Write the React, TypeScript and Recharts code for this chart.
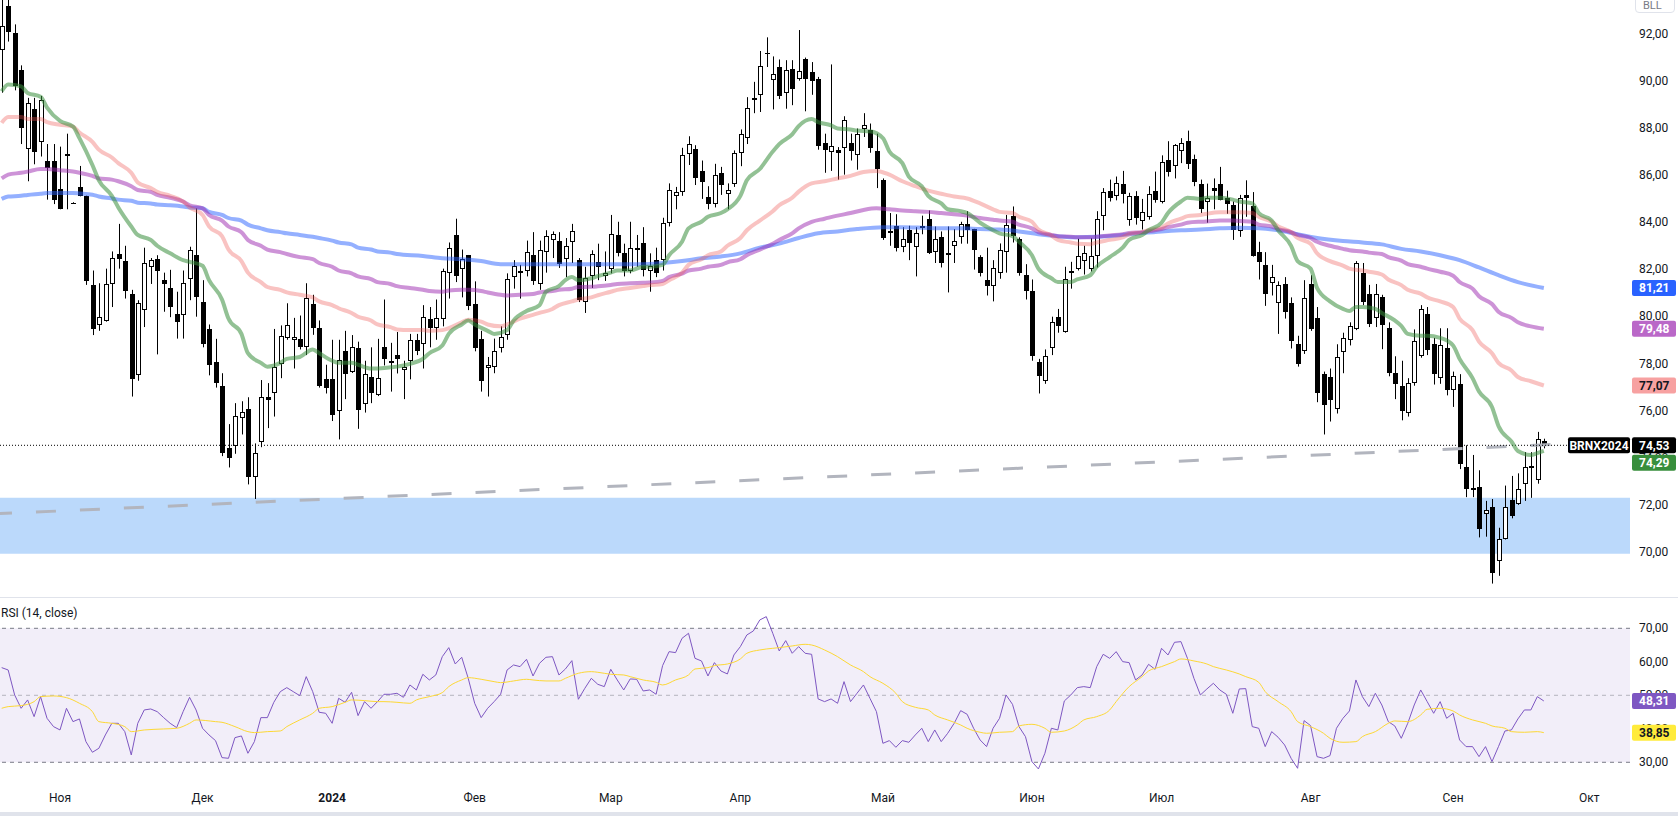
import React from 'react';
import { ComposedChart, Bar, Line, XAxis, YAxis, ReferenceLine, ReferenceArea } from 'recharts';

const FONT = "Roboto, 'Noto Sans', Arial, sans-serif";
const TEXT = '#131722';
const SYMBOL = 'BRNX2024';

// candles: [open, high, low, close], trading days from 19 Oct 2023 to 20 Sep 2024
const ohlc: number[][] = [
[91.30,93.6,89.5,92.34],[93.19,93.6,91.67,92.08],[92.05,92.4,89.6,89.77],[90.45,90.66,87.32,87.99],[87.11,89.28,85.74,89.07],
[88.79,89.28,86.46,86.98],[87.41,89.36,86.79,89.17],[86.62,87.32,84.96,86.30],[86.62,87.32,84.77,84.93],[85.43,87.21,84.55,84.55],
[86.90,87.76,84.55,86.85],[84.83,84.85,84.81,84.83],[85.50,86.39,85.10,85.12],[85.12,85.13,81.34,81.50],[81.34,81.95,79.21,79.47],
[79.62,81.41,79.39,79.96],[79.79,82.03,79.78,81.38],[81.38,82.76,80.40,82.47],[82.66,83.93,82.03,82.42],[82.35,83.00,80.76,81.10],
[80.94,81.13,76.60,77.35],[77.50,80.69,77.27,80.56],[80.27,82.92,79.55,82.26],[82.08,82.48,81.38,82.39],[82.43,82.60,78.39,81.91],
[81.54,81.86,80.20,81.36],[81.21,81.98,79.97,80.40],[80.10,81.05,79.06,79.78],[80.07,81.95,79.06,81.41],[81.57,82.96,80.69,82.81],
[82.60,84.59,79.99,80.81],[80.61,81.54,78.69,78.82],[79.47,79.66,77.50,77.95],[78.07,79.05,76.98,77.17],[77.06,77.59,74.07,74.20],
[74.42,75.43,73.59,74.01],[74.50,76.32,74.17,75.79],[75.67,76.40,74.99,75.96],[76.08,76.57,72.87,73.19],[73.19,74.61,72.25,74.20],
[74.69,77.30,74.45,76.57],[76.60,77.17,75.26,76.45],[76.73,79.47,75.75,77.87],[78.00,79.62,77.38,79.16],[79.09,80.56,79.01,79.62],
[78.98,79.94,77.79,79.11],[79.06,80.04,78.60,78.72],[78.69,81.41,78.36,80.77],[80.51,80.92,79.22,79.50],[79.50,79.83,76.98,77.06],
[77.33,77.95,76.73,76.98],[77.33,79.01,75.56,75.83],[76.00,79.01,74.78,78.16],[78.52,79.39,76.49,77.55],[77.63,79.21,77.60,78.69],
[78.65,78.93,75.23,76.03],[76.27,78.12,75.92,77.55],[77.42,78.69,76.32,76.73],[76.65,79.05,76.62,77.38],[78.69,80.72,77.92,78.20],
[78.10,78.88,76.81,78.06],[78.36,79.34,77.58,78.20],[77.71,78.12,76.49,77.87],[78.12,79.26,77.33,79.01],[79.01,79.26,78.36,78.52],
[78.82,80.48,77.79,79.99],[79.88,80.40,78.69,79.50],[79.50,80.72,79.01,79.94],[79.88,82.03,79.58,81.91],[81.83,83.14,80.76,82.89],
[83.46,84.15,81.46,81.73],[82.03,82.84,80.81,82.43],[82.60,82.61,80.27,80.45],[80.51,81.49,78.52,78.64],[79.06,79.39,76.81,77.27],
[77.82,78.28,76.60,77.92],[77.87,79.06,77.59,78.52],[78.64,79.58,78.47,79.14],[79.22,81.83,79.01,81.57],[81.67,82.39,81.18,82.14],
[81.93,82.19,80.76,81.89],[81.91,83.22,81.70,82.73],[82.60,83.58,81.34,81.51],[81.38,83.22,81.13,82.81],[82.73,83.66,81.86,83.41],
[83.25,83.61,82.48,83.49],[83.20,83.58,82.06,82.24],[82.42,83.33,81.67,83.00],[83.17,83.93,82.27,83.62],[82.40,82.48,80.61,80.72],
[80.61,82.11,80.15,81.62],[81.70,82.81,81.21,82.65],[82.30,83.09,81.54,82.08],[81.73,82.76,81.51,81.86],[82.03,84.31,81.83,83.49],
[83.44,84.02,82.55,82.71],[82.68,83.09,81.70,81.95],[81.95,84.02,81.83,82.89],[82.90,83.46,82.11,82.88],[83.12,83.79,81.70,81.99],
[81.91,82.68,81.05,82.14],[82.39,82.92,81.67,81.86],[82.39,84.19,81.95,83.95],[83.95,85.65,83.82,85.37],[85.12,85.50,84.55,85.29],
[85.29,87.16,85.12,86.84],[86.88,87.65,86.43,87.32],[87.13,87.27,85.58,85.86],[86.18,86.62,84.99,85.69],[85.09,85.53,84.55,84.77],
[84.77,86.48,84.63,86.02],[86.10,86.35,85.16,85.58],[85.21,85.65,84.55,85.37],[85.61,87.05,85.50,86.95],[86.95,87.94,86.38,87.76],
[87.57,89.31,87.32,88.87],[89.17,89.96,88.63,89.28],[89.41,91.27,88.68,90.62],[91.20,91.85,90.59,91.18],[90.05,91.04,88.79,90.31],
[90.57,90.91,89.23,89.36],[89.49,90.88,88.82,90.45],[90.50,90.88,88.97,89.65],[90.10,92.16,90.01,90.42],[90.91,90.99,88.71,90.06],
[90.39,90.80,89.41,89.98],[90.06,90.17,87.08,87.24],[87.37,87.76,86.10,87.08],[87.00,90.70,86.18,87.24],[87.05,87.19,85.81,86.95],
[87.16,88.50,86.02,88.33],[87.37,87.76,86.62,87.03],[86.84,87.98,86.23,87.73],[87.94,88.63,87.62,88.14],[87.93,88.19,86.95,87.16],
[87.03,87.76,85.45,86.26],[85.78,85.86,83.25,83.33],[83.54,84.39,83.00,83.62],[83.82,84.34,82.76,82.89],[82.96,83.79,82.73,83.28],
[83.69,83.85,82.39,83.12],[82.96,83.79,81.70,83.54],[83.74,84.28,83.49,83.82],[84.15,84.50,82.65,82.71],[82.73,83.82,82.27,83.28],
[83.38,83.61,82.08,82.27],[82.70,83.82,81.02,82.66],[83.00,83.71,82.27,83.22],[83.38,84.02,83.09,83.93],[83.93,84.47,83.09,83.66],
[83.71,83.72,81.99,82.81],[82.52,82.60,81.70,81.83],[81.54,82.92,80.89,81.29],[81.29,82.39,80.64,82.06],[81.86,83.10,81.60,82.81],
[82.73,84.31,81.86,83.90],[84.26,84.67,83.14,83.41],[83.30,83.36,81.73,81.83],[81.75,82.22,80.72,81.10],[81.10,81.57,78.12,78.31],
[78.08,78.20,76.73,77.46],[77.25,78.60,77.14,78.33],[78.65,79.99,78.36,79.78],[79.99,80.32,79.31,79.58],[79.34,82.11,79.31,81.57],
[81.93,82.32,81.18,81.89],[82.03,83.30,81.95,82.55],[82.35,83.00,81.78,82.68],[82.03,83.33,81.91,82.57],[82.57,84.47,82.08,84.15],
[84.28,85.45,83.66,85.29],[85.32,85.81,84.88,85.04],[85.12,85.94,84.93,85.66],[85.61,86.18,84.80,85.21],[84.10,85.25,83.85,85.12],
[85.12,85.32,83.90,84.18],[84.06,84.99,83.69,84.44],[84.23,85.53,84.11,85.21],[85.34,86.15,84.83,84.96],[84.85,86.84,84.80,86.56],
[86.64,87.44,85.94,86.15],[86.40,87.32,85.86,87.29],[87.03,87.57,86.51,87.37],[87.44,87.89,86.26,86.46],[86.70,86.87,85.53,85.69],
[85.64,85.81,84.39,84.55],[84.85,85.64,83.98,85.04],[85.45,85.86,84.55,85.34],[85.64,86.35,84.93,84.96],[85.04,85.34,84.36,84.77],
[84.75,84.88,83.25,83.66],[83.61,85.16,83.38,85.04],[85.17,85.78,84.23,85.04],[84.67,85.28,82.54,82.55],[82.73,83.17,81.57,82.32],
[82.19,82.73,80.45,80.94],[81.41,82.19,80.89,81.67],[80.59,81.49,79.26,81.33],[81.38,81.67,79.91,80.20],[80.56,80.81,78.64,78.96],
[78.82,79.18,77.87,77.99],[78.52,81.54,78.41,80.77],[81.38,81.75,79.39,79.45],[79.94,80.40,76.36,76.73],[77.55,77.66,74.99,76.24],
[77.42,77.79,75.54,76.44],[76.08,78.82,75.88,78.28],[78.47,79.31,77.59,79.09],[78.98,79.75,78.77,79.58],[79.47,82.35,79.42,82.27],
[81.83,82.27,80.48,80.61],[80.94,81.34,79.55,79.70],[79.94,81.38,79.55,80.97],[80.81,80.92,78.61,79.62],[79.53,79.75,77.46,77.58],
[77.59,78.31,76.49,77.14],[77.06,78.12,75.59,76.00],[75.92,77.38,75.75,77.17],[77.19,79.45,77.06,78.96],[78.31,80.48,78.25,80.32],
[80.10,80.40,78.36,78.57],[78.85,79.09,77.11,77.55],[77.38,79.50,77.14,78.80],[78.64,79.50,76.65,76.89],[76.89,77.66,76.16,77.46],
[77.14,77.55,73.52,73.72],[73.63,74.53,72.33,72.66],[72.71,74.12,72.33,72.67],[72.74,73.47,70.62,70.98],[71.60,72.17,70.65,71.79],
[71.89,72.25,68.66,69.10],[69.61,71.03,68.99,70.54],[70.54,72.82,70.53,71.92],[72.20,73.23,71.43,71.52],[72.04,73.34,72.00,72.69],
[72.87,74.24,72.17,73.63],[73.64,74.24,72.30,73.62],[73.06,75.10,72.90,74.81],[74.73,74.81,74.40,74.53],
];

// moving averages: [bar index, value]
const maGreen: number[][] = [
[1,89.56],[2,89.85],[4,89.77],[5,89.49],[7,89.33],[8,88.87],[10,88.30],[12,88.06],[13,87.57],[15,86.43],[16,85.78],[18,85.12],[19,84.63],[21,83.82],[22,83.46],[24,83.25],[25,83.0],[27,82.68],[29,82.39],[30,82.32],
[32,82.15],[33,81.54],[35,80.72],[36,79.91],[38,79.26],[39,78.44],[41,78.03],[42,77.87],[44,78.03],[45,78.2],[47,78.28],[49,78.6],[50,78.44],[52,78.12],[53,78.03],[55,78.03],[56,77.95],[58,77.79],[59,77.79],[61,77.84],
[62,77.87],[64,77.99],[66,78.2],[67,78.44],[69,78.77],[70,79.26],[72,79.66],[73,79.83],[74,79.66],[76,79.39],[77,79.26],[79,79.42],[80,79.83],[82,80.23],[84,80.48],[85,81.05],[87,81.29],[88,81.54],[89,81.67],[90,81.54],[92,81.62],
[93,81.71],[95,81.86],[96,81.95],[98,81.95],[100,82.11],[101,82.11],[103,82.19],[104,82.6],[106,83.17],[107,83.74],[109,84.02],[110,84.23],[112,84.39],[113,84.55],[115,85.12],[116,85.78],[118,86.26],[120,87.0],[121,87.32],[123,87.73],
[124,88.08],[126,88.38],[127,88.25],[129,88.11],[130,87.98],[132,87.94],[133,87.89],[135,87.86],[137,87.57],[138,87.0],[140,86.51],[141,85.94],[143,85.53],[144,85.12],[146,84.8],[147,84.55],[149,84.47],[150,84.39],[152,83.98],[154,83.66],
[155,83.53],[157,83.41],[158,83.17],[160,82.6],[161,82.03],[163,81.62],[164,81.46],[166,81.46],[167,81.57],[169,81.75],[170,82.11],[172,82.52],[174,82.92],[175,83.25],[177,83.46],[178,83.66],[180,83.98],[181,84.39],[183,84.88],[184,85.04],
[186,84.99],[187,85.04],[189,85.04],[191,84.96],[192,84.88],[194,84.8],[195,84.39],[197,84.07],[198,83.66],[200,83.0],[201,82.35],[203,82.03],[204,81.21],[206,80.64],[208,80.32],[209,80.23],[210,80.4],[211,80.4],[213,80.32],[214,80.15],[216,79.83],
[217,79.6],[218,79.26],[220,79.18],[221,79.18],[223,79.09],[225,78.77],[226,78.2],[228,77.38],[229,76.81],[231,76.16],[232,75.35],[234,74.69],[235,74.29],[237,74.12],[238,74.2],[239,74.29],
];
const maPink: number[][] = [
[1,88.22],[2,88.47],[4,88.47],[5,88.38],[7,88.38],[8,88.25],[10,88.14],[12,88.06],[13,87.81],[15,87.41],[16,87.08],[18,86.75],[19,86.51],[21,86.1],[22,85.69],[24,85.45],[25,85.29],[27,85.12],[29,84.88],[30,84.63],
[32,84.31],[33,83.82],[35,83.41],[36,82.84],[38,82.35],[39,81.86],[41,81.46],[42,81.25],[44,81.13],[45,81.02],[47,80.92],[49,80.81],[50,80.64],[52,80.48],[53,80.35],[55,80.15],[56,79.99],[58,79.83],[59,79.66],[61,79.55],
[62,79.45],[64,79.42],[66,79.42],[67,79.39],[69,79.42],[70,79.5],[72,79.75],[73,79.86],[75,79.78],[76,79.66],[78,79.58],[79,79.66],[81,79.91],[83,80.07],[84,80.15],[86,80.32],[87,80.48],[89,80.64],[90,80.72],[92,80.81],
[93,80.9],[95,81.05],[96,81.13],[98,81.21],[100,81.29],[101,81.33],[103,81.38],[104,81.54],[106,81.86],[107,82.19],[109,82.43],[110,82.6],[112,82.76],[113,83.0],[115,83.33],[116,83.66],[118,84.07],[120,84.47],[121,84.72],[123,85.04],
[124,85.3],[126,85.65],[128,85.74],[130,85.86],[132,85.97],[134,86.13],[136,86.18],[138,86.02],[140,85.74],[142,85.53],[144,85.34],[146,85.21],[148,85.09],[150,85.01],[152,84.8],[154,84.55],
[155,84.44],[157,84.39],[158,84.23],[160,84.02],[161,83.69],[163,83.44],[164,83.25],[166,83.14],[167,83.09],[169,83.07],[170,83.14],[172,83.25],[174,83.36],[175,83.49],[177,83.58],[178,83.66],[180,83.77],[181,83.95],[183,84.15],[184,84.26],
[186,84.31],[187,84.36],[189,84.42],[191,84.42],[192,84.42],[194,84.39],[195,84.23],[197,84.02],[198,83.82],[200,83.58],[201,83.33],[203,83.09],[204,82.68],[206,82.35],[208,82.16],[209,82.03],[211,81.95],[212,81.9],[214,81.78],[215,81.57],
[217,81.33],[218,81.13],[220,80.97],[221,80.81],[223,80.64],[225,80.4],[226,79.91],[228,79.42],[229,78.93],[231,78.44],[232,78.03],[234,77.71],[235,77.43],[237,77.25],[239,77.07],
];
const maPurple: number[][] = [
[1,85.86],[2,86.02],[4,86.1],[5,86.15],[7,86.26],[8,86.26],[10,86.21],[12,86.15],[13,86.1],[15,85.97],[16,85.86],[18,85.81],[19,85.74],[21,85.53],[22,85.37],[24,85.29],[25,85.16],[27,85.04],[29,84.88],[30,84.72],
[32,84.59],[33,84.31],[35,84.07],[36,83.82],[38,83.58],[39,83.25],[41,83.0],[42,82.84],[44,82.73],[45,82.65],[47,82.52],[49,82.43],[50,82.27],[52,82.11],[53,81.95],[55,81.83],[56,81.7],[58,81.59],[59,81.46],[61,81.38],
[62,81.29],[64,81.21],[66,81.13],[67,81.08],[69,81.05],[70,81.1],[72,81.13],[73,81.13],[75,81.08],[76,81.02],[78,80.92],[79,80.89],[81,80.92],[83,80.95],[84,81.02],[86,81.08],[87,81.13],[89,81.18],[90,81.25],[92,81.26],
[93,81.28],[95,81.34],[96,81.38],[98,81.41],[100,81.43],[101,81.44],[103,81.51],[104,81.67],[106,81.82],[107,81.95],[109,82.03],[110,82.11],[112,82.19],[113,82.3],[115,82.43],[116,82.6],[118,82.84],[120,83.09],[121,83.25],[123,83.53],
[124,83.74],[126,84.02],[128,84.15],[130,84.28],[132,84.39],[134,84.52],[136,84.59],[138,84.55],[140,84.5],[142,84.47],[144,84.44],[146,84.39],[148,84.34],[150,84.28],[152,84.18],[154,84.11],
[155,84.07],[157,84.02],[158,83.9],[160,83.74],[161,83.58],[163,83.46],[164,83.41],[166,83.38],[167,83.36],[169,83.36],[170,83.38],[172,83.44],[174,83.49],[175,83.54],[177,83.58],[178,83.62],[180,83.71],[181,83.79],[183,83.9],[184,83.98],
[186,84.02],[187,84.03],[189,84.07],[191,84.07],[192,84.05],[194,84.02],[195,83.9],[197,83.82],[198,83.71],[200,83.58],[201,83.46],[203,83.33],[204,83.17],[206,83.0],[208,82.87],[209,82.81],[211,82.76],[212,82.71],[214,82.65],[215,82.52],
[217,82.37],[218,82.22],[220,82.11],[221,82.03],[223,81.9],[225,81.73],[226,81.46],[228,81.18],[229,80.86],[231,80.53],[232,80.2],[234,79.94],[235,79.75],[237,79.58],[239,79.48],
];
const maBlue: number[][] = [
[1,84.99],[2,85.09],[4,85.12],[5,85.16],[7,85.21],[8,85.24],[10,85.24],[12,85.24],[13,85.22],[15,85.17],[16,85.09],[18,85.01],[19,84.96],[21,84.91],[22,84.83],[24,84.8],[25,84.75],[27,84.72],[29,84.67],[30,84.63],
[32,84.59],[33,84.44],[35,84.31],[36,84.18],[38,84.07],[39,83.9],[41,83.74],[42,83.66],[44,83.58],[45,83.53],[47,83.46],[49,83.38],[50,83.33],[52,83.22],[53,83.14],[55,83.06],[56,82.92],[58,82.84],[59,82.76],[61,82.71],
[62,82.65],[66,82.57],[69,82.47],[72,82.43],[75,82.35],[78,82.22],[81,82.22],[84,82.22],[87,82.22],[90,82.22],
[93,82.22],[96,82.22],[100,82.22],[103,82.27],[106,82.35],[109,82.47],[112,82.55],[115,82.68],[118,82.92],[121,83.09],
[124,83.33],[127,83.53],[130,83.61],[133,83.71],[137,83.79],[140,83.79],[143,83.77],[146,83.74],[149,83.74],[152,83.71],
[155,83.69],[158,83.61],[161,83.49],[164,83.41],[167,83.36],[170,83.38],[174,83.46],[177,83.54],[180,83.61],[183,83.66],
[186,83.69],[189,83.74],[192,83.77],[195,83.74],[198,83.66],[201,83.49],[204,83.33],[208,83.2],[211,83.14],[214,83.06],
[217,82.87],[220,82.76],[223,82.6],[226,82.39],[229,82.08],[232,81.75],[235,81.46],[239,81.21],
];

// RSI(14) per bar
const rsiValues: number[] = [
58.26,57.56,50.10,46.12,48.61,43.63,49.60,43.13,40.65,39.65,46.12,42.14,42.94,36.17,32.99,34.18,38.16,41.64,41.64,39.15,
32.19,41.64,45.62,45.92,45.12,43.33,41.64,40.35,45.12,49.40,45.62,40.15,38.16,36.47,31.39,31.19,37.36,37.86,32.69,36.17,
43.33,43.33,47.91,51.09,52.29,51.09,49.90,55.57,51.09,44.93,44.63,41.64,49.10,47.91,50.90,43.93,48.11,46.12,48.11,50.30,
50.30,50.60,49.40,53.08,51.59,56.27,54.58,56.07,61.54,64.23,59.35,61.34,55.07,47.61,43.33,46.12,48.11,50.30,57.56,59.05,
58.56,60.75,55.77,59.55,61.34,61.54,56.07,57.86,60.35,48.81,52.09,55.07,53.28,52.59,57.76,54.58,51.59,54.88,54.78,51.29,
51.59,50.30,58.86,63.03,62.74,67.01,68.51,61.04,60.25,55.77,59.75,57.26,56.37,62.04,64.53,68.01,69.20,72.49,73.48,68.51,
63.23,66.32,62.54,64.53,62.54,62.24,48.91,48.11,48.91,47.61,54.08,48.11,50.60,53.08,49.10,45.12,35.67,36.47,34.48,36.47,
35.97,38.16,40.15,36.17,39.65,36.17,38.66,41.64,45.42,44.33,40.15,36.67,34.68,40.15,43.13,50.10,47.31,40.65,37.66,30.20,
28.01,32.69,40.15,39.65,48.31,50.10,52.29,52.59,52.29,58.56,62.24,61.04,63.03,60.05,59.75,54.58,56.07,59.25,57.76,64.03,
62.04,65.82,66.02,61.04,55.07,50.10,51.89,53.58,51.59,50.30,44.63,51.89,51.99,40.65,40.15,34.68,39.15,37.46,35.17,31.19,
28.21,42.44,40.95,31.69,31.19,31.99,40.15,43.13,45.32,54.58,49.60,46.62,50.60,47.11,42.14,40.85,37.16,41.64,47.11,51.59,
48.11,44.63,48.11,43.13,44.63,36.67,34.68,34.68,31.69,34.68,30.20,34.68,39.35,39.65,42.94,45.62,45.62,49.60,48.31,
];

// RSI-based MA: [bar index, value]
const rsiMa: number[][] = [
[1,46.12],[2,46.62],[4,46.92],[6,48.11],[7,49.6],[9,49.8],[11,49.3],[13,47.61],[15,45.12],[16,42.14],[18,41.64],[20,40.65],[21,39.15],[23,39.65],[26,39.95],[28,40.15],[30,41.64],[31,42.64],[34,42.14],[35,41.94],
[37,40.65],[39,39.15],[40,38.86],[42,39.15],[44,39.35],[45,40.65],[47,42.64],[49,44.63],[50,46.12],[52,46.62],[54,47.91],[55,48.61],[57,48.41],[59,48.11],[60,48.11],[62,47.91],[64,47.61],[65,48.61],[67,49.6],[69,50.8],
[70,52.59],[72,54.58],[73,55.27],[75,54.78],[77,54.08],[78,53.78],[80,54.28],[82,54.78],[83,54.58],[85,54.28],[87,54.28],[88,55.07],[90,56.57],[92,57.06],[93,56.87],[95,56.27],[97,56.07],[98,55.57],[100,54.58],[102,53.88],
[103,53.08],[105,54.58],[107,56.07],[108,57.86],[110,58.26],[111,58.86],[113,59.35],[115,60.85],[116,62.54],[118,63.53],[120,64.03],[121,64.23],[123,64.73],[125,65.22],[126,65.02],[128,63.53],[130,61.54],
[132,59.05],[134,57.06],[135,55.57],[137,53.58],[139,50.6],[140,48.11],[142,46.42],[144,45.62],[145,44.13],[147,42.64],[149,41.14],[150,40.15],[152,38.96],[153,38.66],[155,38.96],[157,39.15],[158,40.85],[160,41.34],
[162,40.15],[163,38.96],[165,39.35],[167,41.14],[168,42.64],[170,43.63],[172,45.62],[173,48.11],[175,52.59],[177,55.57],[178,57.26],[180,58.56],[182,60.05],[183,60.85],[185,60.25],[187,59.35],[188,58.56],[190,57.56],
[192,56.37],[193,55.57],[195,53.88],[196,51.09],[198,48.11],[200,45.12],[201,42.14],[203,40.65],[205,38.66],[206,37.16],[208,35.97],[210,36.17],[211,37.66],[213,39.15],[215,41.64],[216,42.34],[218,42.14],[220,44.13],
[221,45.82],[223,46.12],[225,45.32],[226,44.13],[228,42.64],[230,41.64],[231,40.85],[233,40.15],[234,39.15],[236,38.96],[238,39.15],[239,38.85],
];

const monthTicks = [10, 32, 52, 74, 95, 115, 137, 160, 180, 203, 225, 246];
const monthLabels = ['Ноя', 'Дек', '2024', 'Фев', 'Мар', 'Апр', 'Май', 'Июн', 'Июл', 'Авг', 'Сен', 'Окт'];
const priceTicks = [70, 72, 74, 76, 78, 80, 82, 84, 86, 88, 90, 92];
const rsiTicks = [30, 40, 50, 60, 70];
const supportZone = { low: 69.93, high: 72.3 };
const trendLine = [{ x: 0.74, y: 71.63 }, { x: 252.3, y: 74.71 }];

const X_DOMAIN: [number, number] = [0.74, 252.3];
const PRICE_DOMAIN: [number, number] = [68.09, 93.435];
const RSI_DOMAIN: [number, number] = [23.22, 78.45];

const fmt = (v: number) => v.toFixed(2).replace('.', ',');
const lastOf = (a: number[][]) => a[a.length - 1][1];

const rows: any[] = ohlc.map((d, i) => ({
  x: i + 1, o: d[0], h: d[1], l: d[2], c: d[3], range: [d[2], d[1]], rsi: rsiValues[i],
}));
const attach = (pairs: number[][], key: string) => {
  pairs.forEach(([x, v]) => { const r = rows[x - 1]; if (r) r[key] = v; });
};
attach(maGreen, 'g');
attach(maPink, 'p');
attach(maPurple, 'u');
attach(maBlue, 'b');
attach(rsiMa, 'rm');

const lastClose = ohlc[ohlc.length - 1][3];
const lastRsi = rsiValues[rsiValues.length - 1];

const Candle = (props: any) => {
  const { x, y, width, height, payload } = props;
  if (!payload || payload.o == null) return null;
  const { o, h, l, c } = payload;
  const top = Math.min(y, y + height);
  const hh = Math.abs(height);
  const ppu = h !== l ? hh / (h - l) : 0;
  const yOf = (v: number) => top + (h - v) * ppu;
  const up = c >= o;
  const cx = Math.round(x + width / 2) + 0.5;
  const bt = Math.round(yOf(Math.max(o, c)));
  const bb = Math.round(yOf(Math.min(o, c)));
  return (
    <g>
      <line x1={cx} x2={cx} y1={top} y2={top + hh} stroke="#000" strokeWidth={1} />
      {bb - bt < 1 ? (
        <line x1={cx - 2.5} x2={cx + 2.5} y1={bt + 0.5} y2={bt + 0.5} stroke="#000" strokeWidth={1} />
      ) : (
        <rect x={cx - 2} y={bt + 0.5} width={4} height={Math.max(1, bb - bt - 1)} fill={up ? '#fff' : '#000'} stroke="#000" strokeWidth={1} />
      )}
    </g>
  );
};

const AxisTick = (props: any) => {
  const { x, y, payload } = props;
  return (
    <text x={x + 9} y={y + 4} fontSize={12} fill={TEXT} fontFamily={FONT}>{fmt(payload.value)}</text>
  );
};

const MonthTick = (props: any) => {
  const { x, y, payload } = props;
  const label = monthLabels[monthTicks.indexOf(payload.value)];
  return (
    <text x={x} y={y + 17} textAnchor="middle" fontSize={12} fill={TEXT} fontFamily={FONT} fontWeight={label === '2024' ? 700 : 400}>{label}</text>
  );
};

const AxisBox = ({ x, y, text, fill, color }: any) => (
  <g>
    <rect x={x} y={y - 8} width={44} height={16} rx={2} fill={fill} />
    <text x={x + 7} y={y + 4.5} fontSize={12} fontWeight={700} fill={color} fontFamily={FONT}>{text}</text>
  </g>
);

const boxLabel = (text: string, fill: string, color: string) => (props: any) => {
  const vb = props.viewBox;
  if (!vb) return null;
  return <AxisBox x={vb.x + vb.width + 2} y={vb.y} text={text} fill={fill} color={color} />;
};

const lastPriceLabel = (props: any) => {
  const vb = props.viewBox;
  if (!vb) return null;
  const right = vb.x + vb.width;
  return (
    <g>
      <rect x={right - 62} y={vb.y - 8} width={62} height={16} rx={2} fill="#000" />
      <text x={right - 31} y={vb.y + 4.5} textAnchor="middle" fontSize={12} fontWeight={700} fill="#fff" fontFamily={FONT}>{SYMBOL}</text>
      <AxisBox x={right + 2} y={vb.y} text={fmt(lastClose)} fill="#000" color="#fff" />
      <AxisBox x={right + 2} y={vb.y + 17.5} text={fmt(lastOf(maGreen))} fill="#388e3c" color="#fff" />
    </g>
  );
};

const PRICE_MARGIN = { top: 0, right: 0, bottom: 0, left: 0 };
const RSI_MARGIN = { top: 2, right: 0, bottom: 3, left: 0 };

export default function App() {
  return (
    <div style={{ position: 'absolute', left: 0, top: 0, width: 1678, height: 816, background: '#fff', overflow: 'hidden' }}>
      {/* price pane */}
      <div style={{ position: 'absolute', left: 0, top: 0 }}>
        <ComposedChart width={1678} height={597} data={rows} margin={PRICE_MARGIN}>
          <XAxis dataKey="x" type="number" domain={X_DOMAIN} allowDataOverflow hide height={0} />
          <YAxis orientation="right" width={48} domain={PRICE_DOMAIN} allowDataOverflow ticks={priceTicks}
            axisLine={false} tickLine={false} tickSize={0} tickMargin={0} tick={(p: any) => <AxisTick {...p} />} />
          <ReferenceArea y1={supportZone.low} y2={supportZone.high} fill="#bbd9fb" fillOpacity={1} stroke="none" ifOverflow="visible" />
          <ReferenceLine segment={trendLine} stroke="#b2b5be" strokeWidth={3} strokeDasharray="20 24" strokeDashoffset={8} ifOverflow="visible" />
          <ReferenceLine y={lastClose} stroke="#000" strokeWidth={1} strokeDasharray="1 2" />
          <Bar dataKey="range" barSize={5} shape={(p: any) => <Candle {...p} />} isAnimationActive={false} />
          <Line dataKey="b" type="monotone" connectNulls dot={false} activeDot={false} stroke="#2962ff" strokeOpacity={0.5} strokeWidth={4} isAnimationActive={false} />
          <Line dataKey="u" type="monotone" connectNulls dot={false} activeDot={false} stroke="#9c27b0" strokeOpacity={0.5} strokeWidth={4} isAnimationActive={false} />
          <Line dataKey="p" type="monotone" connectNulls dot={false} activeDot={false} stroke="#ef5350" strokeOpacity={0.35} strokeWidth={4} isAnimationActive={false} />
          <Line dataKey="g" type="monotone" connectNulls dot={false} activeDot={false} stroke="#388e3c" strokeOpacity={0.55} strokeWidth={4} isAnimationActive={false} />
        </ComposedChart>
      </div>
      {/* price pane: value labels layered over the scale */}
      <div style={{ position: 'absolute', left: 0, top: 0 }}>
        <ComposedChart width={1678} height={597} data={rows} margin={PRICE_MARGIN}>
          <XAxis dataKey="x" type="number" domain={X_DOMAIN} allowDataOverflow hide height={0} />
          <YAxis orientation="right" width={48} domain={PRICE_DOMAIN} allowDataOverflow ticks={priceTicks}
            axisLine={false} tickLine={false} tick={false} />
          <ReferenceLine y={lastOf(maBlue)} stroke="none" label={boxLabel(fmt(lastOf(maBlue)), '#2962ff', '#fff')} />
          <ReferenceLine y={lastOf(maPurple)} stroke="none" label={boxLabel(fmt(lastOf(maPurple)), '#ba68c8', '#fff')} />
          <ReferenceLine y={lastOf(maPink)} stroke="none" label={boxLabel(fmt(lastOf(maPink)), '#f7a1a1', TEXT)} />
          <ReferenceLine y={lastClose} stroke="none" label={lastPriceLabel} />
        </ComposedChart>
      </div>
      <div style={{ position: 'absolute', left: 0, top: 597, width: 1678, height: 1, background: '#e0e3eb' }} />
      {/* RSI pane */}
      <div style={{ position: 'absolute', left: 0, top: 598 }}>
        <ComposedChart width={1678} height={218} data={rows} margin={RSI_MARGIN}>
          <XAxis dataKey="x" type="number" domain={X_DOMAIN} allowDataOverflow ticks={monthTicks} interval={0}
            axisLine={false} tickLine={false} tickSize={0} tickMargin={0} height={28} tick={(p: any) => <MonthTick {...p} />} />
          <YAxis orientation="right" width={48} domain={RSI_DOMAIN} allowDataOverflow ticks={rsiTicks}
            axisLine={false} tickLine={false} tickSize={0} tickMargin={0} tick={(p: any) => <AxisTick {...p} />} />
          <ReferenceArea y1={30} y2={70} fill="#7e57c2" fillOpacity={0.1} stroke="none" ifOverflow="visible" />
          <ReferenceLine y={70} stroke="#787b86" strokeDasharray="4 4" />
          <ReferenceLine y={50} stroke="#787b86" strokeOpacity={0.5} strokeDasharray="4 4" />
          <ReferenceLine y={30} stroke="#787b86" strokeDasharray="4 4" />
          <Line dataKey="rsi" type="linear" dot={false} activeDot={false} stroke="#7e57c2" strokeWidth={1} isAnimationActive={false} />
          <Line dataKey="rm" type="monotone" connectNulls dot={false} activeDot={false} stroke="#fdd835" strokeWidth={1} isAnimationActive={false} />
        </ComposedChart>
      </div>
      {/* RSI pane: value labels layered over the scale */}
      <div style={{ position: 'absolute', left: 0, top: 598 }}>
        <ComposedChart width={1678} height={218} data={rows} margin={RSI_MARGIN}>
          <XAxis dataKey="x" type="number" domain={X_DOMAIN} allowDataOverflow axisLine={false} tickLine={false} tick={false} height={28} />
          <YAxis orientation="right" width={48} domain={RSI_DOMAIN} allowDataOverflow ticks={rsiTicks}
            axisLine={false} tickLine={false} tick={false} />
          <ReferenceLine y={lastRsi} stroke="none" label={boxLabel(fmt(lastRsi), '#7e57c2', '#fff')} />
          <ReferenceLine y={lastOf(rsiMa)} stroke="none" label={boxLabel(fmt(lastOf(rsiMa)), '#ffeb3b', TEXT)} />
        </ComposedChart>
      </div>
      <div style={{ position: 'absolute', left: 1, top: 605, fontFamily: FONT, fontSize: 12, lineHeight: '16px', color: TEXT }}>RSI (14, close)</div>
      <div style={{ position: 'absolute', left: 0, top: 812, width: 1678, height: 4, background: '#e0e3eb' }} />
      <div style={{ position: 'absolute', left: 1635, top: -10, width: 40, height: 23, border: '1px solid #e0e3eb', borderRadius: 4, boxSizing: 'border-box',
        fontFamily: FONT, fontSize: 11, color: '#787b86', lineHeight: '11px', paddingTop: 9, paddingLeft: 7 }}>BLL</div>
    </div>
  );
}
